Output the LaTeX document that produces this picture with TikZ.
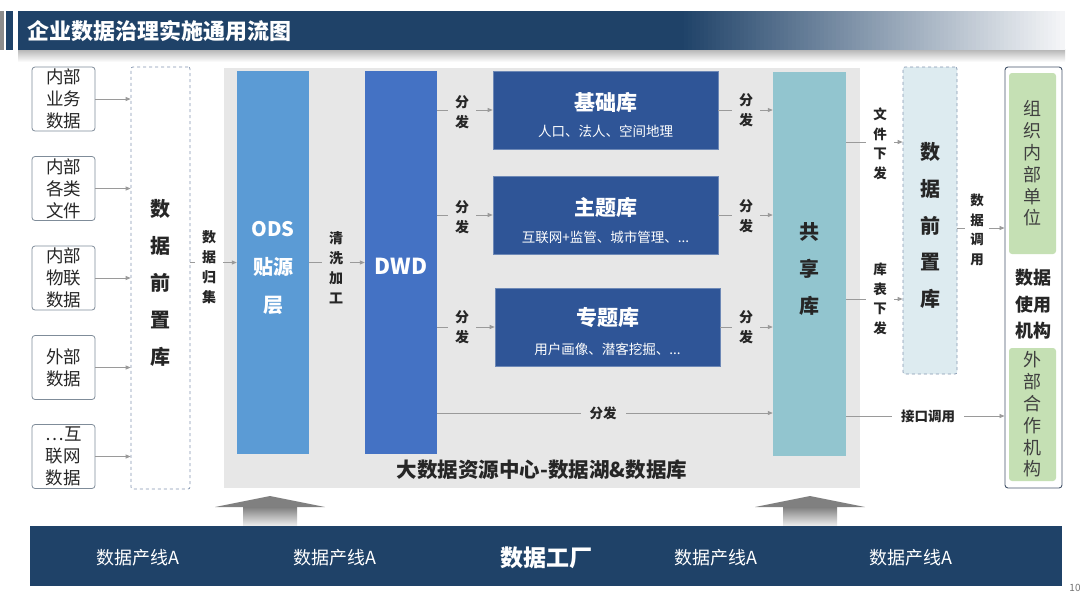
\documentclass[tikz,border=0pt]{standalone}
\usepackage{fontspec}
\setmainfont{Noto Sans CJK SC}
\usetikzlibrary{arrows.meta}
\definecolor{navy}{HTML}{1F4268}
\definecolor{odsc}{HTML}{5B9BD5}
\definecolor{dwdc}{HTML}{4472C4}
\definecolor{libc}{HTML}{2F5597}
\definecolor{sharec}{HTML}{92C5CF}
\definecolor{pre2c}{HTML}{DDEBF0}
\definecolor{bgc}{HTML}{E7E7E7}
\definecolor{greenc}{HTML}{C5E0B4}
\definecolor{srcgray}{HTML}{7F8C99}
\definecolor{arrgray}{HTML}{9A9A9A}
\definecolor{txt}{HTML}{262626}
\definecolor{dashc}{HTML}{8496B0}
\definecolor{outerc}{HTML}{44546A}
\definecolor{hdrend}{HTML}{F4F5F7}
\begin{document}
\begin{tikzpicture}[x=1pt,y=-1pt,
  srcbox/.style={draw=srcgray,rounded corners=3pt,line width=0.8pt,fill=white,minimum width=63pt,minimum height=64pt,inner sep=0pt,align=center,font=\fontsize{17.5}{22}\selectfont,text=txt},
  prebox/.style={draw=dashc,dashed,line width=0.7pt,rounded corners=2pt,inner sep=0pt,align=center,font=\bfseries\fontsize{20}{37}\selectfont,text=txt},
  vtext/.style={inner sep=0pt,align=center,yshift=-5pt},
  colbox/.style={inner sep=0pt,minimum width=72pt,minimum height=383pt},
  libbox/.style={fill=libc,draw=libc!70!white,line width=0.6pt,inner sep=0pt,minimum width=225pt,minimum height=78pt},
  libtitle/.style={text=white,font=\bfseries\fontsize{21}{24}\selectfont,inner sep=0pt},
  libsub/.style={text=white,font=\fontsize{13.5}{16}\selectfont,inner sep=0pt},
  arr/.style={draw=arrgray,line width=0.8pt,-{Triangle[length=5pt,width=4pt]}},
  vlab/.style={font=\bfseries\fontsize{14}{20}\selectfont,align=center,inner xsep=7pt,inner ysep=1pt,text=txt},
  hlab/.style={font=\bfseries\fontsize{13.5}{16}\selectfont,inner xsep=9pt,inner ysep=1pt,text=txt},
  greenbox/.style={fill=greenc,rounded corners=3pt,inner sep=0pt,minimum width=47pt,align=center,font=\fontsize{18}{21.8}\selectfont,text=black!75},
  linelab/.style={text=white,font=\fontsize{18}{22}\selectfont,inner sep=0pt}
]
\useasboundingbox (0,0) rectangle (1080,595);
\fill[white] (0,0) rectangle (1080,595);
% header
\shade[top color=black!30, bottom color=white] (18,49) rectangle (1065,62);
\fill[navy] (18,11) rectangle (681,50);
\foreach \i in {0,...,95}{
  \pgfmathsetmacro\p{100-100*\i/95}
  \fill[navy!\p!hdrend] ({680+4*\i},11) rectangle ({685+4*\i},50);
}
\fill[black!45] (0,11) rectangle (4,50);
\fill[navy] (6,11) rectangle (13,50);
\node[anchor=west,text=white,font=\bfseries\fontsize{22}{26}\selectfont,inner sep=0pt] (title) at (27,31) {企业数据治理实施通用流图};

% big grey background
\node[fill=bgc,minimum width=636pt,minimum height=420pt,inner sep=0pt] (bg) at (542,278) {};
\node[font=\bfseries\fontsize{20.5}{24}\selectfont,text=txt,inner sep=0pt] (bglab) at (542,470) {大数据资源中心-数据湖\&数据库};

% sources
\node[srcbox] (s1) at (63.5,99) {内部\\业务\\数据};
\node[srcbox] (s2) at (63.5,188.5) {内部\\各类\\文件};
\node[srcbox] (s3) at (63.5,278) {内部\\物联\\数据};
\node[srcbox] (s4) at (63.5,367.5) {外部\\数据};
\node[srcbox] (s5) at (63.5,456.5) {…互\\联网\\数据};

\node[prebox,fill=white,minimum width=59pt,minimum height=422pt] (pre1) at (160.5,278) {};
\node[vtext,font=\bfseries\fontsize{20}{37}\selectfont,text=txt] (pre1t) at (pre1) {数\\据\\前\\置\\库};

\foreach \s in {s1,s2,s3,s4,s5}{\draw[arr] (\s.east) -- (pre1.west |- \s.east);}

% ODS and DWD
\node[colbox,fill=odsc] (ods) at (273,262.5) {};
\node[vtext,text=white,font=\bfseries\fontsize{20}{38}\selectfont] (odst) at (ods) {ODS\\贴源\\层};
\node[colbox,fill=dwdc] (dwd) at (401,262.5) {};
\node[vtext,yshift=1pt,text=white,font=\bfseries\fontsize{22}{26}\selectfont] (dwdt) at (dwd) {DWD};

\draw[arr] (pre1.east |- ods.west) -- (ods.west);
\node[vlab,fill=white,yshift=-4pt] (l1) at (209,263) {数\\据\\归\\集};
\draw[arr] (ods.east) -- (dwd.west);
\node[vlab,fill=bgc,yshift=-4pt] (l2) at (336,264) {清\\洗\\加\\工};

% libraries
\node[libbox] (jc) at (605.5,110) {};
\node[libtitle] (jct) at (605.5,102) {基础库};
\node[libsub] (jcs) at (605.5,131) {人口、法人、空间地理};
\node[libbox] (zt) at (605.5,215) {};
\node[libtitle] (ztt) at (605.5,207) {主题库};
\node[libsub] (zts) at (605.5,237) {互联网+监管、城市管理、...};
\node[libbox] (zx) at (607.5,327) {};
\node[libtitle] (zxt) at (607.5,318) {专题库};
\node[libsub] (zxs) at (607.5,349) {用户画像、潜客挖掘、...};

% shared
\node[colbox,fill=sharec,minimum width=73pt,minimum height=384pt] (share) at (809.5,264) {};
\node[vtext,text=txt,font=\bfseries\fontsize{20}{37}\selectfont] (sharet) at (share) {共\\享\\库};

\draw[arr] (dwd.east |- jc.west) -- (jc.west);
\node[vlab,fill=bgc] (f1) at (462,112) {分\\发};
\draw[arr] (dwd.east |- zt.west) -- (zt.west);
\node[vlab,fill=bgc] (f2) at (462,217) {分\\发};
\draw[arr] (dwd.east |- zx.west) -- (zx.west);
\node[vlab,fill=bgc] (f3) at (462,327) {分\\发};
\coordinate (c4) at (437,413);
\draw[arr] (dwd.east |- c4) -- (share.west |- c4);
\node[hlab,fill=bgc] (f4) at (603,413) {分发};

\draw[arr] (jc.east) -- (share.west |- jc.east);
\node[vlab,fill=bgc] (g1) at (746,110) {分\\发};
\draw[arr] (zt.east) -- (share.west |- zt.east);
\node[vlab,fill=bgc] (g2) at (746,216) {分\\发};
\draw[arr] (zx.east) -- (share.west |- zx.east);
\node[vlab,fill=bgc] (g3) at (746,327) {分\\发};

% right front db
\node[prebox,fill=pre2c,minimum width=54pt,minimum height=307pt] (pre2) at (930,220.5) {};
\node[vtext,text=txt,font=\bfseries\fontsize{20}{36.6}\selectfont] (pre2t) at (pre2) {数\\据\\前\\置\\库};

% users
\node[draw=outerc,line width=0.9pt,rounded corners=3pt,minimum width=57pt,minimum height=421pt,inner sep=0pt] (use) at (1033.5,277.5) {};
\node[greenbox,minimum height=181pt] (gr1) at (1032.5,163.5) {组\\织\\内\\部\\单\\位};
\node[greenbox,minimum height=133pt] (gr2) at (1032.5,414.5) {外\\部\\合\\作\\机\\构};
\node[font=\bfseries\fontsize{18}{26.5}\selectfont,align=center,text=txt,inner sep=0pt] (uselab) at (1033,304.5) {数据\\使用\\机构};

\coordinate (r1) at (846,142);
\coordinate (r2) at (846,299);
\coordinate (r3) at (846,416);
\draw[arr] (share.east |- r1) -- (pre2.west |- r1);
\node[vlab,fill=white,font=\bfseries\fontsize{13.5}{19.5}\selectfont] (h1) at (880,144) {文\\件\\下\\发};
\draw[arr] (share.east |- r2) -- (pre2.west |- r2);
\node[vlab,fill=white,font=\bfseries\fontsize{13.5}{19.5}\selectfont] (h2) at (880,299) {库\\表\\下\\发};
\draw[arr] (share.east |- r3) -- (use.west |- r3);
\node[hlab,fill=white] (h3) at (928,416) {接口调用};
\coordinate (r4) at (957,228);
\draw[arr] (pre2.east |- r4) -- (use.west |- r4);
\node[vlab,fill=white,font=\bfseries\fontsize{13.5}{19.5}\selectfont,inner xsep=5pt] (h4) at (977,230) {数\\据\\调\\用};

% bottom factory
\fill[black!50] (215,507) -- (270,496) -- (325,507) -- cycle;
\shade[top color=black!50, bottom color=black!6] (243,507) rectangle (297,526);
\fill[black!50] (755,507) -- (810,496) -- (865,507) -- cycle;
\shade[top color=black!50, bottom color=black!6] (783,507) rectangle (837,526);
\node[fill=navy,minimum width=1032pt,minimum height=60pt,inner sep=0pt] (fac) at (546,556) {};
\node[linelab] (p1) at (138,558) {数据产线A};
\node[linelab] (p2) at (335,558) {数据产线A};
\node[linelab,font=\bfseries\fontsize{23}{26}\selectfont] (p3) at (546,558) {数据工厂};
\node[linelab] (p4) at (716,558) {数据产线A};
\node[linelab] (p5) at (911,558) {数据产线A};
\node[text=black!55,font=\fontsize{10}{12}\selectfont,inner sep=0pt] (pg) at (1075,588) {10};
\end{tikzpicture}
\end{document}
